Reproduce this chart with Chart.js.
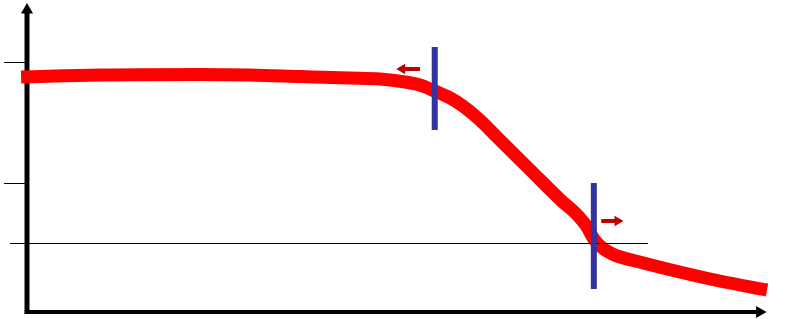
<!DOCTYPE html>
<html>
<head>
<meta charset="utf-8">
<script src="https://cdn.jsdelivr.net/npm/chart.js@4/dist/chart.umd.min.js"></script>
<style>
  html, body { margin: 0; padding: 0; background: #fff; }
  #wrap { width: 786px; height: 319px; position: relative; }
</style>
</head>
<body>
<div id="wrap"><canvas id="chart"></canvas></div>
<script>
// ─── Data (x in arbitrary units along the axis, y in arbitrary units above it) ──

const CURVE_X = [-0.8, 9.9, 23.4, 30.1, 36.9, 43.6, 47.7, 51.1, 53.1, 55.1, 57.2, 58.9, 61.2, 63.5,
                 68.0, 72.4, 74.1, 75.6, 76.6, 77.6, 79.1, 82.8, 88.2, 93.6, 100];
const CURVE_Y = [94.0, 94.8, 95.0, 94.8, 94.2, 93.6, 93.2, 92.0, 90.8, 88.4, 85.6, 82.4, 76.8, 70.0,
                 56.8, 44.0, 39.6, 34.4, 29.2, 26.0, 23.2, 20.0, 16.0, 12.4, 8.8];

// tick levels on the vertical axis
const TICK_Y     = [99.8, 51.4];
const TICK_X     = [-3.1, 0];
const REF_LINE_Y = 27.4;
const REF_LINE_X = [-2.3, 83.9];

// the two vertical markers
const MARK_X   = [55.1, 76.6];
const MARK_Y0  = [72.8, 9.2];
const MARK_Y1  = [106, 51.6];

// small direction arrows: [tail x, tip x], y
const ARROW_TAIL = [53.1, 77.6];
const ARROW_TIP  = [50.0, 80.5];
const ARROW_Y    = [97.2, 36.4];

// axes
const AXIS_X_END = 99.0;
const AXIS_Y_END = 120.8;

const COLORS = {
  curve:  '#ff0000',
  marker: '#33339f',
  arrow:  '#c00000',
  axis:   '#000000',
};

const xy = (xs, ys) => xs.map((x, i) => ({ x, y: ys[i] }));

function lineSet(data, color, width, extra) {
  return Object.assign({
    data,
    borderColor: color,
    backgroundColor: color,
    borderWidth: width,
    pointRadius: 0,
    tension: 0,
    fill: false,
    clip: false,
  }, extra || {});
}

function headSet(point, color, radius, rotation) {
  return {
    data: [point],
    showLine: false,
    pointStyle: 'triangle',
    pointRadius: radius,
    rotation,
    backgroundColor: color,
    borderColor: color,
    borderWidth: 0,
    clip: false,
  };
}

const datasets = [];

// markers (topmost)
MARK_X.forEach((x, i) => {
  datasets.push(lineSet([{ x, y: MARK_Y0[i] }, { x, y: MARK_Y1[i] }], COLORS.marker, 6));
});

// arrows
ARROW_TIP.forEach((tip, i) => {
  const dir = tip < ARROW_TAIL[i] ? -1 : 1;
  datasets.push(headSet({ x: tip - dir * 0.7, y: ARROW_Y[i] }, COLORS.arrow, 6, dir < 0 ? 270 : 90));
  datasets.push(lineSet([{ x: ARROW_TAIL[i], y: ARROW_Y[i] }, { x: tip - dir * 0.9, y: ARROW_Y[i] }], COLORS.arrow, 4));
});

// reference line
datasets.push(lineSet([{ x: REF_LINE_X[0], y: REF_LINE_Y }, { x: REF_LINE_X[1], y: REF_LINE_Y }], COLORS.axis, 1));

// the curve
datasets.push(lineSet(xy(CURVE_X, CURVE_Y), COLORS.curve, 13, { cubicInterpolationMode: 'monotone' }));

// axes with arrow heads
datasets.push(headSet({ x: 0, y: AXIS_Y_END }, COLORS.axis, 7, 0));
datasets.push(lineSet([{ x: 0, y: -0.8 }, { x: 0, y: AXIS_Y_END }], COLORS.axis, 5));
datasets.push(headSet({ x: AXIS_X_END, y: 0 }, COLORS.axis, 7, 90));
datasets.push(lineSet([{ x: -0.3, y: 0 }, { x: AXIS_X_END, y: 0 }], COLORS.axis, 4));

// ticks
TICK_Y.forEach(y => {
  datasets.push(lineSet([{ x: TICK_X[0], y }, { x: TICK_X[1], y }], COLORS.axis, 1));
});

new Chart(document.getElementById('chart'), {
  type: 'line',
  data: { datasets },
  options: {
    responsive: true,
    maintainAspectRatio: false,
    animation: false,
    events: [],
    layout: { padding: 0, autoPadding: false },
    plugins: { legend: { display: false }, tooltip: { enabled: false } },
    scales: {
      x: { type: 'linear', min: -3.65, max: 102.57, display: false },
      y: { type: 'linear', min: -2.8, max: 124.8, display: false },
    },
  },
});
</script>
</body>
</html>
